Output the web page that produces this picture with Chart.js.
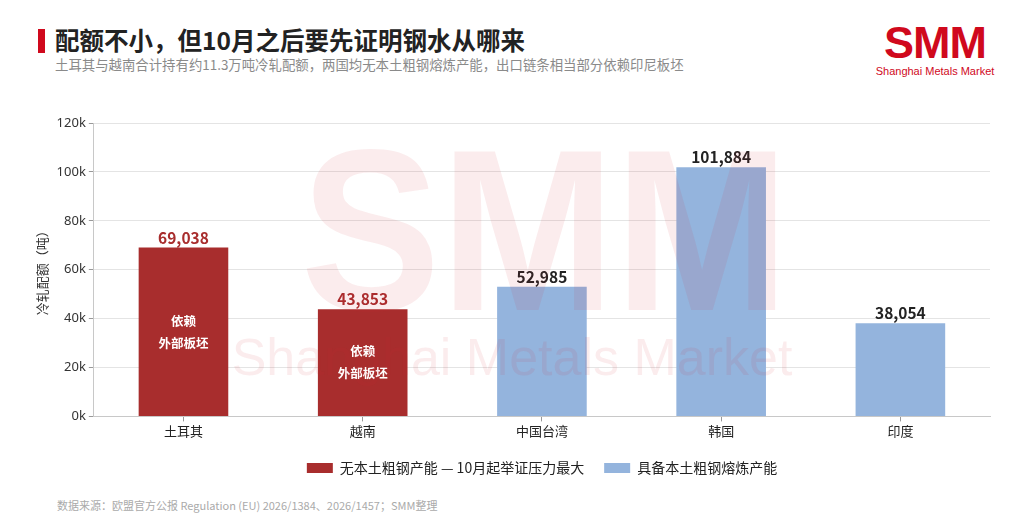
<!DOCTYPE html>
<html>
<head>
<meta charset="utf-8">
<script src="https://cdn.jsdelivr.net/npm/chart.js@4"></script>
<style>
  html, body { margin: 0; padding: 0; background: #fff; }
  body { width: 1024px; height: 527px; position: relative; overflow: hidden; font-family: "Noto Sans CJK SC", "Noto Sans", sans-serif; }
  .bar { position: absolute; left: 38px; top: 29px; width: 7px; height: 24px; background: #d0091d; }
  .title { position: absolute; left: 55px; top: 22px; font-size: 24.5px; font-weight: 700; color: #222; }
  .sub { position: absolute; left: 55px; top: 54px; font-size: 13.4px; color: #8a8a8a; white-space: nowrap; }
  .logo { position: absolute; left: 870px; top: 22px; width: 130px; text-align: center; color: #d0091d; white-space: nowrap; }
  .logo .big { font-family: "Liberation Sans", Arial, sans-serif; font-weight: 700; font-size: 45px; line-height: 42px; letter-spacing: -1px; }
  .logo .small { font-family: "Liberation Sans", Arial, sans-serif; font-size: 11px; line-height: 14px; }
  .src { position: absolute; left: 57px; top: 497px; font-size: 11px; color: #aaa; }
  #wrap { position: absolute; left: 0; top: 100px; width: 1024px; height: 389px; }
</style>
</head>
<body>
<div class="bar"></div>
<div class="title">配额不小，但10月之后要先证明钢水从哪来</div>
<div class="sub">土耳其与越南合计持有约11.3万吨冷轧配额，两国均无本土粗钢熔炼产能，出口链条相当部分依赖印尼板坯</div>
<div class="logo"><div class="big">SMM</div><div class="small">Shanghai Metals Market</div></div>
<div id="wrap"><canvas id="quota"></canvas></div>
<div class="src">数据来源：欧盟官方公报 Regulation (EU) 2026/1384、2026/1457；SMM整理</div>
<script>
const countries = ['土耳其', '越南', '中国台湾', '韩国', '印度'];
const noSmelting = [69038, 43853, null, null, null];
const withSmelting = [null, null, 52985, 101884, 38054];
const yTicks = ['0k', '20k', '40k', '60k', '80k', '100k', '120k'];
const seriesNames = ['无本土粗钢产能 — 10月起举证压力最大', '具备本土粗钢熔炼产能'];
const insideText = ['依赖', '外部板坯'];

const RED = '#a82d2d';
const BLUE = '#94b4dd';

const barLabels = {
  id: 'barLabels',
  afterDatasetsDraw(chart) {
    const ctx = chart.ctx;
    ctx.save();
    ctx.textAlign = 'center';
    chart.data.datasets.forEach((ds, di) => {
      const meta = chart.getDatasetMeta(di);
      meta.data.forEach((bar, i) => {
        const v = ds.data[i];
        if (v == null) return;
        ctx.font = '700 15.5px "Noto Sans CJK SC", sans-serif';
        ctx.fillStyle = di === 0 ? RED : '#222';
        ctx.textBaseline = 'bottom';
        ctx.fillText(v.toLocaleString('en-US'), bar.x, bar.y - 2);
        if (di === 0) {
          const mid = (bar.y + bar.base) / 2;
          ctx.font = '700 12.5px "Noto Sans CJK SC", sans-serif';
          ctx.fillStyle = '#fff';
          ctx.textBaseline = 'middle';
          ctx.fillText(insideText[0], bar.x, mid - 11);
          ctx.fillText(insideText[1], bar.x, mid + 11);
        }
      });
    });
    ctx.restore();
  }
};

// legend sits a little right of centre in the original
const legendShift = {
  id: 'legendShift',
  afterLayout(chart) {
    chart.legend.left += 32;
    chart.legend.right += 32;
  }
};

const watermark = {
  id: 'watermark',
  afterDraw(chart) {
    const ctx = chart.ctx;
    ctx.save();
    ctx.fillStyle = 'rgba(214, 40, 50, 0.09)';
    ctx.textAlign = 'center';
    ctx.textBaseline = 'alphabetic';
    ctx.save();
    ctx.translate(545, 210);
    ctx.scale(0.91, 1);
    ctx.font = '700 230px "Liberation Sans", sans-serif';
    ctx.fillText('SMM', 0, 0);
    ctx.restore();
    ctx.font = '52px "Liberation Sans", sans-serif';
    ctx.fillText('Shanghai Metals Market', 512, 275);
    ctx.restore();
  }
};

new Chart(document.getElementById('quota'), {
  type: 'bar',
  data: {
    labels: countries,
    datasets: [
      { label: seriesNames[0], data: noSmelting, backgroundColor: RED },
      { label: seriesNames[1], data: withSmelting, backgroundColor: BLUE }
    ]
  },
  options: {
    responsive: true,
    maintainAspectRatio: false,
    animation: false,
    layout: { padding: { left: 30, right: 34, top: 23, bottom: 4 } },
    datasets: { bar: { categoryPercentage: 1, barPercentage: 0.5 } },
    scales: {
      x: {
        stacked: true,
        grid: { offset: false, drawOnChartArea: false, drawTicks: true, tickLength: 5, color: '#999' },
        border: { color: '#c8c8c8' },
        ticks: { color: '#222', font: { size: 13, family: '"Noto Sans CJK SC", sans-serif' }, padding: 2 }
      },
      y: {
        stacked: true,
        min: 0,
        max: 120000,
        grid: { color: '#e4e4e4', tickLength: 5, tickColor: '#999' },
        border: { color: '#c8c8c8' },
        ticks: {
          stepSize: 20000,
          color: '#333',
          font: { size: 13, family: '"Noto Sans", sans-serif' },
          callback: (v, i) => yTicks[i]
        },
        title: { display: true, text: '冷轧配额（吨）', color: '#333', font: { size: 13, family: '"Noto Sans CJK SC", sans-serif' } }
      }
    },
    plugins: {
      legend: {
        position: 'bottom',
        labels: { boxWidth: 26, boxHeight: 10, padding: 20, color: '#222', font: { size: 14, family: '"Noto Sans CJK SC", sans-serif' } }
      },
      tooltip: { enabled: false }
    }
  },
  plugins: [barLabels, legendShift, watermark]
});
</script>
</body>
</html>
